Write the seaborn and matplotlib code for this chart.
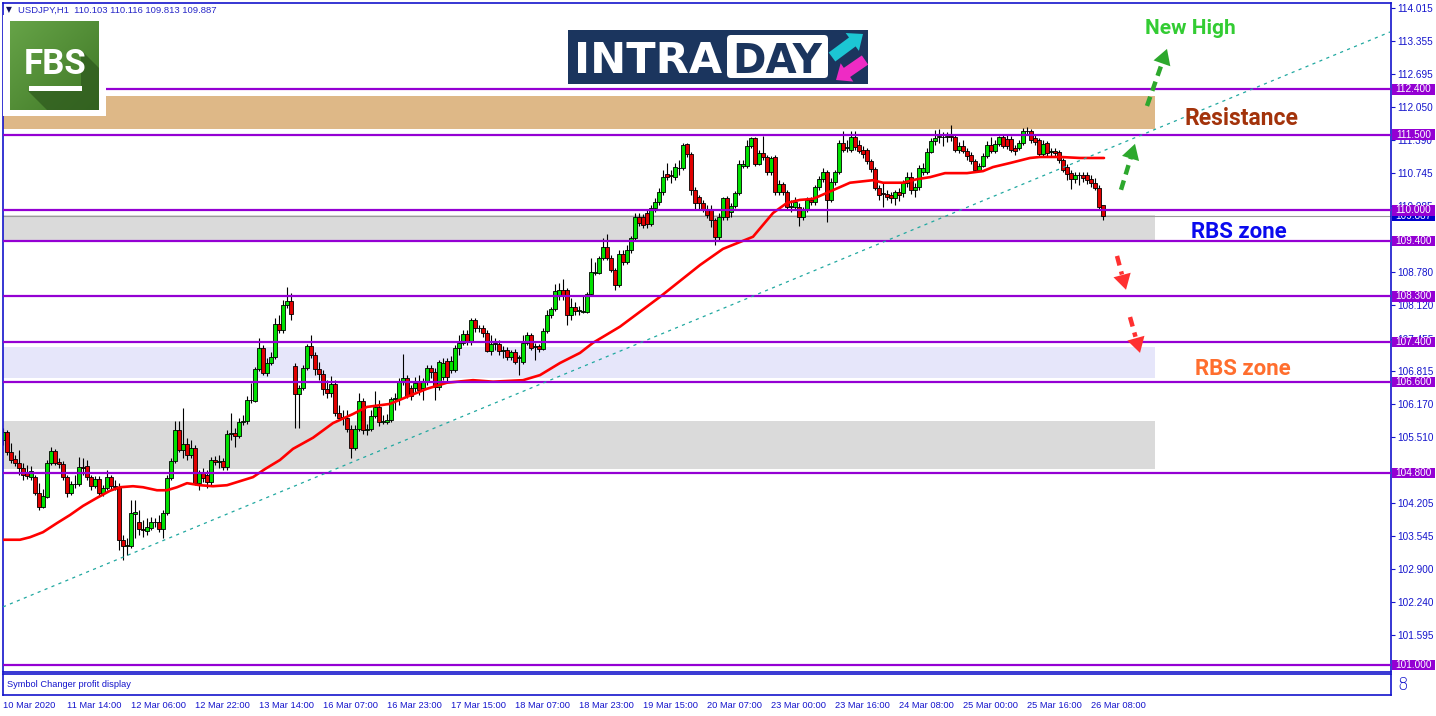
import numpy as np
import pandas as pd
import seaborn as sns
import matplotlib
matplotlib.use("Agg")
import matplotlib.pyplot as plt
import matplotlib.transforms as mtransforms
from matplotlib.patches import Rectangle, Polygon, FancyBboxPatch

# ---------------- data (USDJPY H1) ----------------
opens = [
    105.46, 105.61, 105.22, 105.08, 105.00, 104.90, 104.82, 104.72, 104.72, 104.41,
    104.13, 104.33, 105.00, 105.24, 105.02, 104.98, 104.72, 104.41, 104.58, 104.58,
    104.92, 104.94, 104.72, 104.54, 104.68, 104.41, 104.50, 104.72, 104.54, 104.52,
    103.48, 103.36, 103.36, 103.99, 103.83, 103.69, 103.65, 103.71, 103.83, 103.83,
    103.69, 104.01, 104.70, 105.04, 105.65, 105.26, 105.38, 105.16, 105.30, 104.60,
    104.80, 104.76, 104.62, 105.06, 105.02, 105.04, 104.92, 105.57, 105.59, 105.53,
    105.81, 105.83, 106.25, 106.23, 106.86, 107.28, 106.78, 106.98, 107.10, 107.75,
    107.63, 108.13, 108.21, 106.92, 106.37, 106.49, 106.88, 107.32, 107.14, 106.86,
    106.76, 106.47, 106.39, 106.57, 105.99, 105.89, 105.89, 105.67, 105.30, 105.67,
    106.23, 105.65, 105.67, 105.93, 106.11, 105.81, 105.81, 105.85, 106.27, 106.27,
    106.61, 106.68, 106.49, 106.49, 106.61, 106.49, 106.61, 106.88, 106.80, 106.51,
    106.70, 107.02, 106.84, 106.84, 107.28, 107.38, 107.56, 107.40, 107.83, 107.67,
    107.67, 107.57, 107.22, 107.36, 107.36, 107.22, 107.24, 107.10, 107.20, 107.08,
    107.00, 107.38, 107.54, 107.30, 107.32, 107.26, 107.61, 107.93, 108.05, 108.33,
    108.43, 108.43, 107.93, 108.09, 108.01, 107.99, 107.99, 108.35, 108.76, 108.76,
    109.06, 109.28, 109.06, 108.82, 108.53, 109.14, 108.98, 109.22, 109.46, 109.87,
    109.87, 109.95, 109.73, 110.05, 110.17, 110.37, 110.72, 110.70, 110.66, 110.84,
    110.84, 111.32, 111.12, 110.41, 110.27, 110.15, 110.01, 110.01, 109.81, 109.48,
    109.87, 110.25, 109.97, 110.09, 110.35, 110.88, 110.88, 111.28, 111.44, 110.92,
    111.14, 111.06, 110.76, 111.06, 110.37, 110.53, 110.37, 110.07, 110.07, 110.07,
    109.87, 110.01, 110.21, 110.17, 110.47, 110.62, 110.76, 110.21, 110.56, 110.76,
    111.34, 111.24, 111.20, 111.46, 111.30, 111.20, 111.20, 110.98, 110.82, 110.44,
    110.35, 110.33, 110.31, 110.25, 110.37, 110.35, 110.55, 110.66, 110.41, 110.47,
    110.76, 110.76, 111.16, 111.38, 111.46, 111.46, 111.46, 111.48, 111.46, 111.20,
    111.28, 111.18, 111.10, 110.98, 110.80, 110.88, 111.08, 111.30, 111.18, 111.32,
    111.46, 111.42, 111.42, 111.24, 111.24, 111.34, 111.57, 111.57, 111.44, 111.40,
    111.12, 111.34, 111.16, 111.18, 111.16, 111.00, 110.86, 110.74, 110.62, 110.70,
    110.70, 110.70, 110.62, 110.55, 110.44, 110.103,
]
closes = [
    105.61, 105.22, 105.06, 105.00, 104.90, 104.76, 104.74, 104.84, 104.41, 104.13,
    104.35, 105.00, 105.24, 105.00, 104.98, 104.72, 104.41, 104.58, 104.59, 104.92,
    104.90, 104.72, 104.54, 104.68, 104.41, 104.50, 104.72, 104.54, 104.52, 103.48,
    103.36, 103.38, 104.01, 104.03, 103.69, 103.67, 103.73, 103.83, 103.84, 103.69,
    104.01, 104.70, 105.04, 105.65, 105.26, 105.38, 105.16, 105.30, 104.60, 104.80,
    104.70, 104.62, 105.06, 105.02, 105.04, 104.92, 105.57, 105.59, 105.53, 105.81,
    105.83, 106.25, 106.24, 106.86, 107.28, 106.78, 106.98, 107.10, 107.75, 107.63,
    108.13, 108.21, 107.95, 106.37, 106.49, 106.88, 107.32, 107.14, 106.86, 106.76,
    106.47, 106.39, 106.57, 105.99, 105.89, 105.91, 105.67, 105.30, 105.67, 106.23,
    105.65, 105.67, 105.93, 106.11, 105.81, 105.83, 105.85, 106.27, 106.28, 106.61,
    106.68, 106.33, 106.33, 106.59, 106.45, 106.61, 106.88, 106.80, 106.51, 107.00,
    106.98, 106.70, 107.02, 107.28, 107.38, 107.56, 107.40, 107.83, 107.67, 107.68,
    107.57, 107.22, 107.36, 107.37, 107.22, 107.23, 107.10, 107.20, 107.00, 107.09,
    107.38, 107.54, 107.28, 107.31, 107.26, 107.61, 107.93, 108.05, 108.41, 108.43,
    108.33, 107.93, 108.09, 108.01, 108.02, 108.01, 108.35, 108.78, 108.78, 109.06,
    109.28, 109.06, 108.82, 108.53, 109.14, 108.98, 109.22, 109.46, 109.87, 109.75,
    109.71, 109.73, 110.05, 110.17, 110.37, 110.66, 110.66, 110.68, 110.86, 110.85,
    111.30, 111.12, 110.41, 110.15, 110.15, 110.01, 109.91, 109.81, 109.48, 109.87,
    110.25, 109.87, 110.09, 110.35, 110.92, 110.92, 111.28, 111.44, 110.92, 111.14,
    111.06, 110.76, 111.04, 110.37, 110.53, 110.37, 110.07, 110.08, 110.17, 109.87,
    110.01, 110.21, 110.17, 110.47, 110.62, 110.76, 110.21, 110.56, 110.76, 111.34,
    111.20, 111.25, 111.46, 111.26, 111.18, 111.12, 110.98, 110.82, 110.44, 110.31,
    110.33, 110.27, 110.25, 110.37, 110.31, 110.55, 110.66, 110.41, 110.47, 110.84,
    110.84, 111.16, 111.38, 111.44, 111.47, 111.45, 111.48, 111.46, 111.20, 111.28,
    111.18, 111.08, 110.98, 110.80, 110.88, 111.08, 111.30, 111.18, 111.32, 111.46,
    111.28, 111.28, 111.20, 111.18, 111.34, 111.57, 111.58, 111.40, 111.36, 111.12,
    111.32, 111.14, 111.17, 111.14, 111.00, 110.80, 110.72, 110.62, 110.70, 110.71,
    110.64, 110.60, 110.55, 110.44, 110.07, 109.887,
]
highs = [
    105.69, 105.65, 105.40, 105.16, 105.26, 105.00, 104.96, 104.94, 104.76, 104.60,
    104.48, 105.06, 105.32, 105.28, 105.10, 105.04, 104.76, 104.64, 104.76, 105.12,
    105.10, 105.06, 104.76, 104.74, 104.74, 104.56, 104.86, 104.76, 104.66, 104.60,
    103.57, 103.52, 104.27, 104.27, 104.07, 103.87, 103.91, 103.93, 103.91, 103.97,
    104.07, 104.76, 105.10, 105.83, 105.83, 106.09, 105.50, 105.46, 105.36, 104.86,
    104.90, 104.86, 105.12, 105.14, 105.16, 105.10, 105.65, 105.99, 105.69, 105.89,
    105.95, 106.33, 106.59, 106.90, 107.48, 107.34, 107.08, 107.20, 107.87, 107.93,
    108.23, 108.49, 108.37, 106.98, 106.55, 106.94, 107.36, 107.54, 107.20, 107.00,
    106.84, 106.64, 106.72, 106.64, 106.15, 106.05, 106.05, 105.75, 105.75, 106.39,
    106.29, 105.77, 106.05, 106.43, 106.25, 105.95, 105.97, 106.31, 106.39, 106.68,
    107.16, 106.74, 106.55, 106.70, 106.74, 106.68, 106.94, 106.94, 106.88, 107.04,
    107.08, 107.08, 107.12, 107.34, 107.54, 107.63, 107.63, 107.87, 107.87, 107.73,
    107.73, 107.63, 107.54, 107.48, 107.44, 107.32, 107.30, 107.24, 107.26, 107.14,
    107.54, 107.59, 107.57, 107.38, 107.36, 107.67, 108.03, 108.09, 108.55, 108.57,
    108.64, 108.47, 108.27, 108.19, 108.11, 108.31, 108.39, 109.06, 108.98, 109.10,
    109.46, 109.53, 109.12, 108.86, 109.22, 109.22, 109.32, 109.50, 109.95, 109.95,
    109.93, 110.01, 110.11, 110.25, 110.44, 110.80, 110.94, 110.80, 110.94, 111.00,
    111.34, 111.34, 111.16, 110.47, 110.31, 110.21, 110.11, 110.11, 109.85, 109.95,
    110.27, 110.29, 110.15, 110.39, 111.00, 111.00, 111.40, 111.46, 111.46, 111.20,
    111.47, 111.10, 111.08, 111.10, 110.61, 110.57, 110.41, 110.21, 110.27, 110.15,
    110.07, 110.27, 110.27, 110.51, 110.68, 110.84, 110.80, 110.64, 110.80, 111.40,
    111.57, 111.40, 111.57, 111.57, 111.40, 111.28, 111.24, 111.02, 110.86, 110.51,
    110.57, 110.41, 110.37, 110.41, 110.44, 110.61, 110.76, 110.76, 110.55, 110.90,
    110.94, 111.24, 111.44, 111.59, 111.61, 111.55, 111.55, 111.69, 111.52, 111.36,
    111.40, 111.24, 111.16, 111.02, 110.94, 111.14, 111.38, 111.46, 111.40, 111.48,
    111.50, 111.50, 111.48, 111.30, 111.40, 111.63, 111.65, 111.61, 111.50, 111.44,
    111.40, 111.38, 111.24, 111.24, 111.20, 111.04, 110.92, 110.80, 110.76, 110.76,
    110.76, 110.76, 110.70, 110.64, 110.51, 110.116,
]
lows = [
    105.36, 105.16, 105.00, 104.94, 104.76, 104.66, 104.68, 104.66, 104.37, 104.07,
    104.11, 104.31, 104.96, 104.96, 104.90, 104.66, 104.33, 104.37, 104.50, 104.54,
    104.76, 104.66, 104.46, 104.50, 104.35, 104.35, 104.46, 104.48, 104.46, 103.28,
    103.08, 103.18, 103.32, 103.52, 103.57, 103.53, 103.57, 103.67, 103.73, 103.63,
    103.52, 103.97, 104.66, 105.00, 105.22, 105.10, 105.06, 105.10, 104.56, 104.46,
    104.62, 104.50, 104.56, 104.96, 104.90, 104.86, 104.86, 105.46, 105.32, 105.50,
    105.75, 105.77, 106.19, 106.21, 106.82, 106.74, 106.72, 106.94, 107.06, 107.57,
    107.57, 108.07, 107.83, 105.69, 105.69, 106.45, 106.84, 107.08, 106.74, 106.64,
    106.35, 106.29, 106.31, 105.93, 105.85, 105.75, 105.61, 105.10, 105.26, 105.63,
    105.57, 105.55, 105.63, 105.89, 105.73, 105.77, 105.77, 105.81, 106.05, 106.15,
    106.55, 106.29, 106.25, 106.41, 106.35, 106.25, 106.55, 106.68, 106.25, 106.45,
    106.64, 106.61, 106.78, 106.80, 107.14, 107.34, 107.34, 107.34, 107.59, 107.59,
    107.50, 107.20, 107.14, 107.24, 107.14, 107.08, 107.04, 107.04, 106.96, 106.74,
    106.96, 107.34, 107.24, 107.04, 107.20, 107.24, 107.57, 107.87, 108.01, 108.23,
    108.23, 107.73, 107.83, 107.93, 107.93, 107.97, 107.97, 108.31, 108.72, 108.74,
    109.02, 109.02, 108.78, 108.43, 108.49, 108.92, 108.94, 109.16, 109.42, 109.69,
    109.65, 109.65, 109.69, 109.97, 110.11, 110.31, 110.60, 110.54, 110.60, 110.70,
    110.80, 111.06, 110.31, 110.01, 110.01, 109.97, 109.85, 109.67, 109.32, 109.42,
    109.81, 109.81, 109.87, 110.05, 110.31, 110.84, 110.84, 111.24, 110.88, 110.90,
    111.00, 110.70, 110.70, 110.31, 110.31, 110.31, 110.01, 109.97, 110.01, 109.69,
    109.81, 109.97, 110.11, 110.11, 110.41, 110.56, 109.77, 110.17, 110.50, 110.72,
    111.16, 111.16, 111.16, 111.20, 111.14, 111.04, 110.92, 110.76, 110.41, 110.21,
    110.07, 110.21, 110.15, 110.11, 110.19, 110.27, 110.47, 110.33, 110.27, 110.41,
    110.70, 110.72, 111.14, 111.30, 111.34, 111.28, 111.36, 111.38, 111.16, 111.14,
    111.14, 111.00, 110.92, 110.76, 110.78, 110.86, 111.04, 111.14, 111.14, 111.28,
    111.24, 111.22, 111.16, 111.10, 111.20, 111.30, 111.50, 111.34, 111.30, 111.08,
    111.08, 111.08, 111.08, 111.08, 110.94, 110.76, 110.60, 110.43, 110.54, 110.50,
    110.56, 110.53, 110.47, 110.41, 110.03, 109.813,
]

# moving average (red line), read at sample bars
ma_bars = [0, 4.25, 6.75, 10, 13.5, 16.75, 20, 23.5, 26.75, 29.25, 32.5, 35, 38.5, 41,
           43.5, 46, 49.25, 52.5, 56, 59.25, 62.5, 65.5, 69.25, 72.5, 77.5, 82.5, 87.5,
           91, 96.75, 101, 106, 111, 117.5, 122.5, 130, 134.25, 139.25, 144.25, 147.5,
           154.25, 164.25, 174.25, 180, 187.5, 192.5, 196, 199.25, 202.5, 206, 211.75,
           217.5, 220, 225, 228.5, 231.75, 235.5, 241, 245, 247.5, 251.75, 256.75,
           259.25, 264.25, 269.25, 275.25]
ma_vals = [103.48, 103.48, 103.53, 103.63, 103.81, 103.97, 104.15, 104.31, 104.45, 104.52,
           104.54, 104.52, 104.46, 104.46, 104.52, 104.60, 104.56, 104.54, 104.56, 104.64,
           104.72, 104.88, 105.06, 105.28, 105.50, 105.79, 105.97, 106.11, 106.17, 106.31,
           106.47, 106.59, 106.64, 106.61, 106.64, 106.74, 106.98, 107.18, 107.38, 107.70,
           108.29, 108.92, 109.24, 109.48, 109.95, 110.15, 110.21, 110.23, 110.35, 110.55,
           110.60, 110.55, 110.55, 110.62, 110.66, 110.74, 110.74, 110.78, 110.86, 110.94,
           111.04, 111.06, 111.06, 111.04, 111.04]

# trend line anchors (bar, price)
trend_bars = [0, 346.75]
trend_vals = [102.15, 113.535]

levels = [112.400, 111.500, 110.000, 109.400, 108.300, 107.400, 106.600, 104.800, 101.000]
current_price = 109.887

# zones: (top, bottom, colour)
zone_tops = [112.27, 109.91, 107.30, 105.83]
zone_bottoms = [111.61, 109.42, 106.68, 104.88]
zone_colors = ["#DEB887", "#DADADA", "#E6E6FA", "#DADADA"]
zone_end_bar = 288

yticks = [114.015, 113.355, 112.695, 112.050, 111.390, 110.745, 110.085, 108.780,
          108.120, 107.455, 106.815, 106.170, 105.510, 104.205, 103.545, 102.900,
          102.240, 101.595]
xtick_bars = [16 * k for k in range(18)]
xtick_labels = ["10 Mar 2020", "11 Mar 14:00", "12 Mar 06:00", "12 Mar 22:00", "13 Mar 14:00",
                "16 Mar 07:00", "16 Mar 23:00", "17 Mar 15:00", "18 Mar 07:00", "18 Mar 23:00",
                "19 Mar 15:00", "20 Mar 07:00", "23 Mar 00:00", "23 Mar 16:00", "24 Mar 08:00",
                "25 Mar 00:00", "25 Mar 16:00", "26 Mar 08:00"]

# ---------------- style ----------------
sns.set_style("white")
plt.rcParams["font.family"] = ["Liberation Sans", "DejaVu Sans"]

W, H = 1436, 716
fig = plt.figure(figsize=(W / 100, H / 100), dpi=100)
fig.patch.set_facecolor("white")


def pxbox(x0, y0, x1, y1):
    return [x0 / W, 1 - y1 / H, (x1 - x0) / W, (y1 - y0) / H]


BLUE = "#1414CC"
PURPLE = "#9400D3"

ax = fig.add_axes(pxbox(3, 3, 1391, 672))
ax.set_facecolor("white")

df = pd.DataFrame({"bar": np.arange(len(closes)), "open": opens, "high": highs,
                   "low": lows, "close": closes})

# zones
for top, bot, col in zip(zone_tops, zone_bottoms, zone_colors):
    ax.add_patch(Rectangle((0, bot), zone_end_bar, top - bot, fc=col, ec="none", zorder=1))

ax.axhline(current_price, color="#9A9A9A", lw=0.8, zorder=1.5)

# candles
up = df["close"] >= df["open"]
ax.vlines(df["bar"], df["low"], df["high"], color="black", lw=0.8, zorder=2)
body_h = (df["close"] - df["open"]).abs().clip(lower=0.01)
ax.bar(df["bar"], body_h, bottom=np.minimum(df["open"], df["close"]), width=0.8,
       color=np.where(up, "#00E000", "#E00000"), edgecolor="black", linewidth=0.6, zorder=2.5)

# moving average
sns.lineplot(x=ma_bars, y=ma_vals, ax=ax, color="#FF0000", linewidth=1.9, zorder=3,
             legend=False, sort=False)

# levels
for lv in levels:
    ax.axhline(lv, color=PURPLE, lw=1.6, zorder=4)

# trend line
ax.plot(trend_bars, trend_vals, color="#20A8A0", lw=0.9, linestyle=(0, (2.5, 3.5)), zorder=4)

# arrows
def dashed_arrow(tail, tip, col, frac):
    sx = tail[0] + frac * (tip[0] - tail[0])
    sy = tail[1] + frac * (tip[1] - tail[1])
    ax.plot([tail[0], sx], [tail[1], sy], color=col, lw=3.2,
            linestyle=(0, (2.2, 1.4)), solid_capstyle="butt", zorder=5)
    hx = tail[0] + 0.55 * (tip[0] - tail[0])
    hy = tail[1] + 0.55 * (tip[1] - tail[1])
    ax.annotate("", xy=tip, xytext=(hx, hy),
                arrowprops=dict(arrowstyle="-|>,head_length=0.55,head_width=0.32",
                                color=col, lw=0, shrinkA=0, shrinkB=0, mutation_scale=20),
                zorder=5)

dashed_arrow((279.5, 110.41), (283.0, 111.32), "#2DA82D", 0.70)
dashed_arrow((286.0, 112.07), (291.0, 113.20), "#2DA82D", 0.75)
dashed_arrow((278.5, 109.10), (280.75, 108.43), "#FF3030", 0.55)
dashed_arrow((281.75, 107.89), (284.25, 107.18), "#FF3030", 0.55)

# annotation texts
ax.text(296.75, 113.61, "New High", color="#33CC33", fontsize=15, fontweight="bold",
        family=["Roboto", "DejaVu Sans"], ha="center", va="center", zorder=6)
ax.text(309.5, 111.83, "Resistance", color="#A3330B", fontsize=16.5, fontweight="bold",
        family=["Roboto", "DejaVu Sans"], ha="center", va="center", zorder=6)
ax.text(309.0, 109.57, "RBS zone", color="#0A0AEE", fontsize=16, fontweight="bold",
        family=["Roboto", "DejaVu Sans"], ha="center", va="center", zorder=6)
ax.text(310.0, 106.86, "RBS zone", color="#FF6E2E", fontsize=16, fontweight="bold",
        family=["Roboto", "DejaVu Sans"], ha="center", va="center", zorder=6)

ax.set_xlim(0, 347)
ax.set_ylim(100.861, 114.109)
ax.set_xlabel("")
ax.set_ylabel("")
ax.set_xticks([])
ax.yaxis.tick_right()
ax.set_yticks(yticks)
ax.set_yticklabels([f"{v:.3f}" for v in yticks])
ax.tick_params(axis="y", direction="out", length=3, width=0.8, colors=BLUE,
               labelsize=7.2, pad=1.5)
for s in ax.spines.values():
    s.set_color(BLUE)
    s.set_linewidth(1.2)

# right-axis level boxes
trans = mtransforms.blended_transform_factory(ax.transAxes, ax.transData)
pxw = 1 / 1388
bh = 10.5 / 50.5
ax.add_patch(Rectangle((1 + 1 * pxw, current_price - bh / 2), 43 * pxw, bh, transform=trans,
                       fc="#0000CD", ec="none", clip_on=False, zorder=9))
ax.text(1 + 22.5 * pxw, current_price, f"{current_price:.3f}", transform=trans, color="white",
        fontsize=7.2, ha="center", va="center", clip_on=False, zorder=9.5)
for lv in levels:
    ax.add_patch(Rectangle((1 + 1 * pxw, lv - bh / 2), 43 * pxw, bh, transform=trans,
                           fc=PURPLE, ec="none", clip_on=False, zorder=10))
    ax.text(1 + 22.5 * pxw, lv, f"{lv:.3f}", transform=trans, color="white", fontsize=7.2,
            ha="center", va="center", clip_on=False, zorder=11)

# sub window
ax2 = fig.add_axes(pxbox(3, 674, 1391, 695))
ax2.set_xlim(0, 347)
ax2.set_ylim(0, 1)
ax2.set_yticks([])
ax2.set_xticks(xtick_bars)
ax2.set_xticklabels(xtick_labels)
for lab in ax2.get_xticklabels():
    lab.set_ha("left")
ax2.tick_params(axis="x", direction="out", length=3, width=0.8, colors=BLUE,
                labelsize=6.7, pad=1.5)
for s in ax2.spines.values():
    s.set_color(BLUE)
    s.set_linewidth(1.2)
ax2.text(0.003, 0.5, "Symbol Changer profit display", transform=ax2.transAxes,
         color=BLUE, fontsize=6.7, ha="left", va="center")
fig.text(1397 / W, 1 - 685 / H, "8", color=BLUE, fontsize=12, ha="left", va="center",
         family=["DejaVu Sans"], fontweight="light")

# title
fig.text(6 / W, 1 - 10 / H, "\u25bc", color="#101060", fontsize=5.5, ha="left", va="center",
         family=["DejaVu Sans"])
fig.text(18 / W, 1 - 10 / H, "USDJPY,H1  110.103 110.116 109.813 109.887", color="#2828C8",
         fontsize=6.8, ha="left", va="center")

# FBS logo
lax = fig.add_axes(pxbox(3, 15, 106, 116))
lax.set_zorder(6)
lax.set_xlim(3, 106)
lax.set_ylim(116, 15)
lax.axis("off")
lax.add_patch(Rectangle((3, 15), 103, 101, fc="white", ec="none"))
gx, gy = np.meshgrid(np.linspace(0, 1, 60), np.linspace(0, 1, 60))
g = (gx + gy) / 2
c1 = np.array([0.40, 0.64, 0.28])
c2 = np.array([0.25, 0.47, 0.15])
img = c1[None, None, :] * (1 - g[..., None]) + c2[None, None, :] * g[..., None]
lax.imshow(img, extent=(10, 99, 110, 21), aspect="auto", zorder=1)
lax.add_patch(Polygon([(81, 50), (99, 68), (99, 110), (47, 110), (28, 91), (81, 91)],
                      closed=True, fc="#2F5B1E", ec="none", alpha=0.75, zorder=2))
lax.text(55, 65, "FBS", color="white", fontsize=25, fontweight="bold",
         family=["Roboto", "DejaVu Sans"], ha="center", va="center", zorder=3)
lax.add_patch(Rectangle((29, 86), 53, 5, fc="white", ec="none", zorder=3))

# INTRADAY logo
iax = fig.add_axes(pxbox(568, 30, 868, 84))
iax.set_zorder(6)
iax.set_xlim(568, 868)
iax.set_ylim(84, 30)
iax.axis("off")
iax.add_patch(Rectangle((568, 30), 300, 54, fc="#1B355E", ec="none"))
iax.text(574, 73, "INTRA", color="white", fontsize=31, fontweight="bold",
         family=["DejaVu Sans"], ha="left", va="baseline")
iax.add_patch(FancyBboxPatch((727, 35), 101, 43, boxstyle="round,pad=0,rounding_size=4",
                             fc="white", ec="none"))
iax.text(777, 73, "DAY", color="#1B355E", fontsize=29, fontweight="bold",
         family=["DejaVu Sans"], ha="center", va="baseline")
iax.annotate("", xy=(863, 34), xytext=(832, 57),
             arrowprops=dict(arrowstyle="simple,head_length=0.6,head_width=1.0,tail_width=0.5",
                             color="#1CC6D4", lw=0, shrinkA=0, shrinkB=0, mutation_scale=16))
iax.annotate("", xy=(836, 80), xytext=(865, 60),
             arrowprops=dict(arrowstyle="simple,head_length=0.6,head_width=1.0,tail_width=0.5",
                             color="#EE2BC4", lw=0, shrinkA=0, shrinkB=0, mutation_scale=16))

fig.savefig("out.png", dpi=100, facecolor="white")
